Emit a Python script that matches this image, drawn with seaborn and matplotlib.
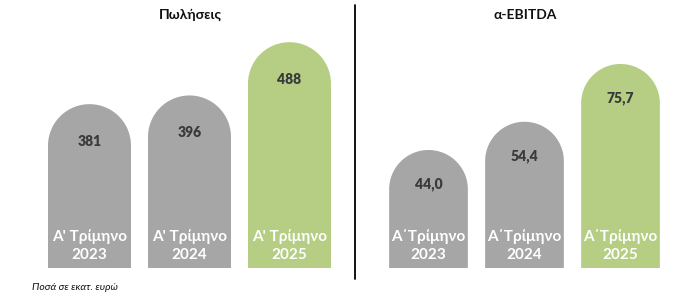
import numpy as np
import pandas as pd
import matplotlib
matplotlib.use("Agg")
import matplotlib.pyplot as plt
from matplotlib.patches import Polygon
import seaborn as sns

# ---- data ----
sales_labels = ["Α' Τρίμηνο\n2023", "Α' Τρίμηνο\n2024", "Α' Τρίμηνο\n2025"]
sales_values = [381, 396, 488]
sales_text = ["381", "396", "488"]

ebitda_labels = ["Α΄Τρίμηνο\n2023", "Α΄Τρίμηνο\n2024", "Α΄Τρίμηνο\n2025"]
ebitda_values = [44.0, 54.4, 75.7]
ebitda_text = ["44,0", "54,4", "75,7"]

titles = ["Πωλήσεις", "α-EBITDA"]
footnote = "Ποσά σε εκατ. ευρώ"

GRAY = "#A6A6A6"
GREEN = "#B5CE84"
colors = [GRAY, GRAY, GREEN]

sns.set_theme(style="white")
plt.rcParams['font.family'] = ['Lato', 'DejaVu Sans']

W, H = 700, 303
fig = plt.figure(figsize=(W / 100, H / 100), dpi=100)

bottom_px, top_px = 268, 30
ax_b = (H - bottom_px) / H
ax_h = (bottom_px - top_px) / H
ax1 = fig.add_axes([39.5 / W, ax_b, 300 / W, ax_h])
ax2 = fig.add_axes([380.5 / W, ax_b, 288 / W, ax_h])


def draw(ax, labels, values, texts, ylim, width, val_off, title, title_x):
    df = pd.DataFrame({"label": labels, "value": values})
    sns.barplot(data=df, x="label", y="value", hue="label", palette=colors,
                width=width, ax=ax, legend=False, saturation=1)
    ax.set_xlim(-0.5, len(values) - 0.5)
    ax.set_ylim(*ylim)
    for s in ax.spines.values():
        s.set_visible(False)
    ax.set_xticks([])
    ax.set_yticks([])
    ax.set_xlabel("")
    ax.set_ylabel("")
    ax.grid(False)

    bbox = ax.get_position()
    ax_w_px = bbox.width * W
    ax_h_px = bbox.height * H
    px_per_x = ax_w_px / (ax.get_xlim()[1] - ax.get_xlim()[0])
    px_per_y = ax_h_px / (ax.get_ylim()[1] - ax.get_ylim()[0])

    for p in list(ax.patches):
        x0 = p.get_x()
        w = p.get_width()
        h = p.get_height()
        if np.isnan(h) or h == 0:
            p.remove()
            continue
        fc = p.get_facecolor()
        p.set_visible(False)
        rx = w / 2
        ry = rx * px_per_x / px_per_y
        cx = x0 + rx
        cy = h - ry
        th = np.linspace(0, np.pi, 80)
        arc = np.column_stack([cx + rx * np.cos(th), cy + ry * np.sin(th)])
        pts = np.vstack([[x0 + w, 0], [x0 + w, cy], arc, [x0, cy], [x0, 0]])
        ax.add_patch(Polygon(pts, closed=True, facecolor=fc, edgecolor="none"))

    y0 = ylim[0]
    for i, (v, t, lab) in enumerate(zip(values, texts, labels)):
        ax.annotate(t, xy=(i, v), xytext=(0, -val_off), textcoords="offset pixels",
                    ha="center", va="center", fontsize=10, fontweight="heavy",
                    color="#3A3A3A")
        l1, l2 = lab.split("\n")
        ax.annotate(l1, xy=(i, y0), xytext=(0, 31), textcoords="offset pixels",
                    ha="center", va="center", fontsize=11, fontweight="bold",
                    color="white", annotation_clip=False)
        ax.annotate(l2, xy=(i, y0), xytext=(0, 13), textcoords="offset pixels",
                    ha="center", va="center", fontsize=11, fontweight="bold",
                    color="white", annotation_clip=False)
    fig.text(title_x / W, 1 - 15 / H, title, ha="center", va="center",
             fontsize=10, fontweight="bold", color="#111111")


draw(ax1, sales_labels, sales_values, sales_text, (98, 98 + 238 / 0.579), 0.83, 37,
     titles[0], 190)
draw(ax2, ebitda_labels, ebitda_values, ebitda_text, (0.5, 0.5 + 238 / 2.713), 0.82, 34,
     titles[1], 525)

fig.add_artist(plt.Line2D([355 / W, 355 / W], [1 - 279 / H, 1 - 5 / H],
                          transform=fig.transFigure, color="black", linewidth=1.3))
fig.text(32 / W, 1 - 287 / H, footnote, ha="left", va="center", fontsize=7.5,
         style="italic", color="#111111")

fig.savefig("out.png", dpi=100)
